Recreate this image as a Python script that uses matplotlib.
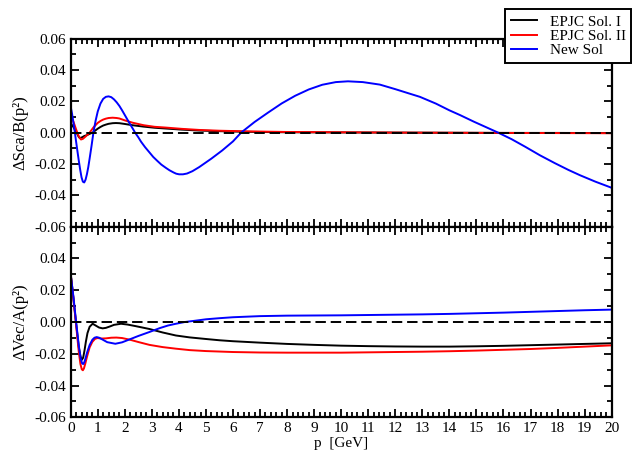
import matplotlib
matplotlib.use("Agg")
import matplotlib.pyplot as plt
from matplotlib.ticker import MultipleLocator, FixedLocator, FixedFormatter

plt.rcParams['font.family'] = ['Liberation Serif', 'DejaVu Serif']
plt.rcParams['axes.unicode_minus'] = False
plt.rcParams['lines.scale_dashes'] = False

# ---------------- data: top panel (ΔSca/B) ----------------
p_top_black = [0, 0.1, 0.2, 0.3, 0.34, 0.42, 0.5, 0.6, 0.7, 0.81, 0.9, 1.0, 1.1, 1.2, 1.3, 1.4, 1.55, 1.67,
               1.8, 2.0, 2.29, 2.7, 3.1, 3.52, 4.1, 4.75, 5.5, 6.5, 8, 10, 12, 14, 16, 18, 20]
y_top_black = [0.0060, 0.0035, 0.0005, -0.0028, -0.0035, -0.0030, -0.0022, -0.0016, -0.0008, 0.0, 0.0012,
               0.0025, 0.0036, 0.0045, 0.0051, 0.0056, 0.0060, 0.0061, 0.0060, 0.0055, 0.0047, 0.0038,
               0.0031, 0.0026, 0.0019, 0.0013, 0.0009, 0.0005, 0.0002, 0.0001, 0.0, -0.0001, -0.0002,
               -0.0002, -0.0003]

p_top_red = [0, 0.1, 0.2, 0.3, 0.38, 0.45, 0.55, 0.7, 0.85, 1.0, 1.1, 1.2, 1.3, 1.4, 1.55, 1.7, 1.8, 2.0,
             2.29, 2.7, 3.1, 3.52, 4.1, 4.75, 5.5, 6.5, 8, 10, 12, 14, 16, 18, 20]
y_top_red = [0.011, 0.007, 0.002, -0.0025, -0.0044, -0.0040, -0.0025, 0.0, 0.0035, 0.0062, 0.0074, 0.0083,
             0.0089, 0.0093, 0.0095, 0.0093, 0.0090, 0.0078, 0.0063, 0.0047, 0.0037, 0.0032, 0.0024,
             0.0017, 0.0012, 0.0008, 0.0004, 0.0002, 0.0, -0.0001, -0.0002, -0.0003, -0.0004]

p_top_blue = [0, 0.05, 0.1, 0.15, 0.2, 0.25, 0.3, 0.35, 0.4, 0.45, 0.5, 0.55, 0.6, 0.65, 0.7, 0.77, 0.84,
              0.92, 1.0, 1.1, 1.2, 1.3, 1.4, 1.5, 1.6, 1.7, 1.8, 1.9, 2.0, 2.1, 2.2, 2.3, 2.38, 2.5, 2.6,
              2.75, 2.91, 3.05, 3.2, 3.35, 3.52, 3.65, 3.8, 3.9, 4.01, 4.15, 4.3, 4.5, 4.75, 5.0, 5.2,
              5.6, 6.0, 6.3, 6.8, 7.3, 7.8, 8.3, 8.8, 9.3, 9.8, 10.25, 10.8, 11.43, 12.0, 12.5, 12.91,
              13.5, 14.0, 14.39, 14.9, 15.35, 15.8, 16.3, 16.8, 17.35, 17.9, 18.4, 18.83, 19.4, 20]
y_top_blue = [0.0165, 0.012, 0.0065, 0.0005, -0.0058, -0.012, -0.018, -0.0236, -0.0285, -0.0313, -0.0318,
              -0.0300, -0.0265, -0.0220, -0.0165, -0.0085, 0.0, 0.0075, 0.0135, 0.0185, 0.0215, 0.0228,
              0.0231, 0.0226, 0.0212, 0.0193, 0.0170, 0.0142, 0.0112, 0.0082, 0.0052, 0.0024, 0.0,
              -0.0030, -0.0058, -0.0093, -0.0126, -0.0155, -0.0180, -0.0204, -0.0225, -0.0240, -0.0254,
              -0.0262, -0.0266, -0.0266, -0.0261, -0.0246, -0.0220, -0.0190, -0.0166, -0.0114, -0.0056,
              0.0, 0.0068, 0.0128, 0.0186, 0.0235, 0.0275, 0.0305, 0.0322, 0.0327, 0.0322, 0.0306,
              0.0277, 0.0250, 0.0228, 0.0185, 0.0142, 0.0112, 0.0070, 0.0035, 0.0, -0.0042, -0.0090,
              -0.0145, -0.0195, -0.0238, -0.0272, -0.0313, -0.0352]

# ---------------- data: bottom panel (ΔVec/A) ----------------
p_bot_black = [0, 0.1, 0.2, 0.3, 0.36, 0.41, 0.46, 0.51, 0.56, 0.62, 0.7, 0.81, 0.95, 1.05, 1.18, 1.3, 1.45,
               1.6, 1.86, 2.1, 2.4, 2.91, 3.4, 3.89, 4.4, 5, 5.5, 6, 7, 8, 9, 10, 11, 12, 13, 14, 15, 16,
               17, 18, 19, 20]
y_bot_black = [0.030, 0.015, -0.001, -0.016, -0.0215, -0.0238, -0.0225, -0.018, -0.0125, -0.0070, -0.0030,
               -0.0011, -0.0025, -0.0035, -0.0040, -0.0037, -0.0028, -0.0018, -0.0011, -0.0016, -0.0026,
               -0.0044, -0.0066, -0.0085, -0.0097, -0.0107, -0.0115, -0.0121, -0.0130, -0.0138, -0.0144,
               -0.0149, -0.0152, -0.0154, -0.0155, -0.0155, -0.0153, -0.0150, -0.0146, -0.0142, -0.0138,
               -0.0134]

p_bot_red = [0, 0.1, 0.2, 0.3, 0.36, 0.41, 0.45, 0.49, 0.54, 0.6, 0.7, 0.8, 0.9, 0.99, 1.15, 1.3, 1.5,
             1.69, 1.9, 2.2, 2.5, 2.91, 3.4, 3.89, 4.4, 5, 6, 7, 8, 9, 10, 11, 12, 13, 14, 15, 16, 17, 18,
             19, 20]
y_bot_red = [0.030, 0.015, -0.002, -0.019, -0.0265, -0.0298, -0.0304, -0.0292, -0.0262, -0.0220, -0.0160,
             -0.0125, -0.0106, -0.0101, -0.0104, -0.0103, -0.0099, -0.0098, -0.0101, -0.0112, -0.0126,
             -0.0144, -0.0158, -0.0168, -0.0177, -0.0183, -0.0189, -0.0192, -0.0193, -0.0193, -0.0193,
             -0.0191, -0.0189, -0.0187, -0.0184, -0.0180, -0.0175, -0.0170, -0.0163, -0.0155, -0.0147]

p_bot_blue = [0, 0.1, 0.2, 0.3, 0.37, 0.42, 0.46, 0.5, 0.55, 0.6, 0.7, 0.8, 0.88, 0.96, 1.05, 1.15, 1.35,
              1.65, 1.9, 2.2, 2.5, 2.91, 3.3, 3.6, 3.89, 4.22, 4.6, 5, 5.5, 6, 7, 8, 9, 10, 11, 12, 13, 14,
              15, 16, 17, 18, 19, 20]
y_bot_blue = [0.030, 0.016, 0.0, -0.015, -0.0230, -0.0260, -0.0265, -0.0255, -0.0228, -0.0195, -0.0145,
              -0.0112, -0.0099, -0.0095, -0.0099, -0.0108, -0.0127, -0.0137, -0.0128, -0.0108, -0.0088,
              -0.0063, -0.0038, -0.0022, -0.0011, 0.0, 0.0008, 0.0017, 0.0024, 0.0030, 0.0037, 0.0040,
              0.0041, 0.0042, 0.0044, 0.0046, 0.0048, 0.0051, 0.0055, 0.0059, 0.0064, 0.0069, 0.0074,
              0.0078]

labels = ['EPJC Sol. I', 'EPJC Sol. II', 'New Sol']
colors = ['black', '#ff0000', '#0000ff']

top_yticks = [0.06, 0.04, 0.02, 0.00, -0.02, -0.04, -0.06]
top_yticklabels = ['0.06', '0.04', '0.02', '0.00', '-0.02', '-0.04', '-0.06']
bot_yticks = [0.04, 0.02, 0.00, -0.02, -0.04, -0.06]
bot_yticklabels = ['0.04', '0.02', '0.00', '-0.02', '-0.04', '-0.06']
xticks = list(range(0, 21))

fig = plt.figure(figsize=(6.33, 4.57), dpi=100)
L, R = 70.7 / 633, 611.7 / 633
ytop, ymid, ybot = 1 - 38.5 / 457, 1 - 226.7 / 457, 1 - 417.3 / 457
ax1 = fig.add_axes([L, ymid, R - L, ytop - ymid])
ax2 = fig.add_axes([L, ybot, R - L, ymid - ybot])

lw = 1.4
handles = []
for ax, datasets in [(ax1, [(p_top_black, y_top_black), (p_top_red, y_top_red), (p_top_blue, y_top_blue)]),
                     (ax2, [(p_bot_black, y_bot_black), (p_bot_red, y_bot_red), (p_bot_blue, y_bot_blue)])]:
    hs = []
    for (px, py), c, lab in zip(datasets, colors, labels):
        h, = ax.plot(px, py, color=c, lw=lw, label=lab, solid_joinstyle='round')
        hs.append(h)
    ax.axhline(0, color='black', lw=1.4, linestyle=(0, (7.5, 3.5)), zorder=5)
    ax.set_xlim(0, 20)
    ax.set_ylim(-0.06, 0.06)
    ax.xaxis.set_major_locator(FixedLocator(xticks))
    ax.xaxis.set_minor_locator(MultipleLocator(0.2))
    ax.yaxis.set_minor_locator(MultipleLocator(0.01))
    ax.tick_params(which='both', direction='in', top=True, right=True, labelsize=11, width=1.3)
    ax.tick_params(which='major', length=6)
    ax.tick_params(which='minor', length=3.5)
    for s in ax.spines.values():
        s.set_linewidth(1.6)
    if ax is ax1:
        handles = hs

ax1.yaxis.set_major_locator(FixedLocator(top_yticks))
ax1.yaxis.set_major_formatter(FixedFormatter(top_yticklabels))
ax1.tick_params(labelbottom=False)
ax2.yaxis.set_major_locator(FixedLocator(bot_yticks))
ax2.yaxis.set_major_formatter(FixedFormatter(bot_yticklabels))
ax2.set_xticklabels([str(t) for t in xticks])

ax1.set_ylabel('ΔSca/B(p²)', fontsize=12, labelpad=4)
ax2.set_ylabel('ΔVec/A(p²)', fontsize=12, labelpad=4)
ax2.set_xlabel('p  [GeV]', fontsize=11, labelpad=1)

leg = fig.legend(handles, labels, loc='upper right', bbox_to_anchor=(631 / 633, 1 - 9.5 / 457),
                 borderaxespad=0, fontsize=11, fancybox=False, framealpha=1, edgecolor='black',
                 handlelength=1.75, labelspacing=0.05, borderpad=0.35, handletextpad=0.8)
leg.get_frame().set_linewidth(1.4)

fig.savefig('out.png', dpi=100)
